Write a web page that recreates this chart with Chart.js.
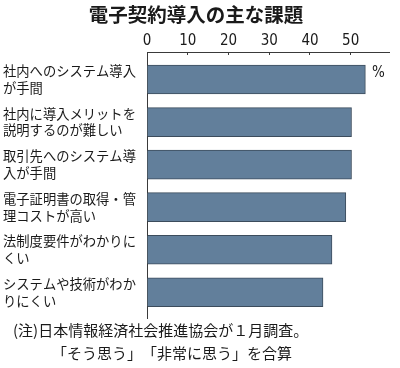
<!DOCTYPE html>
<html>
<head>
<meta charset="utf-8">
<script src="https://cdn.jsdelivr.net/npm/chart.js@4/dist/chart.umd.min.js"></script>
<style>
  html, body { margin: 0; padding: 0; background: #fff; }
  canvas { text-spacing-trim: space-all; }
</style>
</head>
<body>
<canvas id="barChart" width="400" height="368"></canvas>
<script>
// data
var chartTitle = '電子契約導入の主な課題';
var categories = [
    ['社内へのシステム導入', 'が手間'],
    ['社内に導入メリットを', '説明するのが難しい'],
    ['取引先へのシステム導', '入が手間'],
    ['電子証明書の取得・管', '理コストが高い'],
    ['法制度要件がわかりに', 'くい'],
    ['システムや技術がわか', 'りにくい']
];
var values = [53.6, 50.2, 50.2, 48.8, 45.4, 43.2];
var xTicks = [0, 10, 20, 30, 40, 50];
var unitLabel = '%';
var notes = [
    '(注)日本情報経済社会推進協会が１月調査。',
    '「そう思う」「非常に思う」を合算'
];

var jpFont = "'Noto Sans CJK JP', 'Noto Sans', sans-serif";
var numFont = "'Liberation Sans Narrow', 'DejaVu Sans Condensed', 'Liberation Sans', sans-serif";
var textColor = '#1a1a1a';
var axisColor = '#3a3a3a';

// unit label and footnote, drawn after the chart
var extraText = {
    id: 'extraText',
    afterDraw: function(chart) {
        var ctx = chart.ctx;
        var area = chart.chartArea;
        var yScale = chart.scales.y;
        ctx.save();
        ctx.fillStyle = textColor;
        ctx.textBaseline = 'middle';
        ctx.textAlign = 'left';
        ctx.font = '15px ' + numFont;
        ctx.fillText(unitLabel, area.right - 17, yScale.getPixelForValue(0) - 6);

        ctx.font = '15px ' + jpFont;
        ctx.fillText(notes[0], 13, area.bottom + 12);
        ctx.fillText(notes[1], 52, area.bottom + 35);
        ctx.restore();
    }
};

var barData = values.map(function(v, i) { return { x: v, y: i }; });

var ctx = document.getElementById('barChart').getContext('2d');
var barChart = new Chart(ctx, {
    type: 'bar',
    data: {
        datasets: [{
            data: barData,
            backgroundColor: '#627f9b',
            borderColor: '#3c4c5c',
            borderWidth: 1,
            barThickness: 29
        }]
    },
    options: {
        indexAxis: 'y',
        responsive: false,
        animation: false,
        layout: {
            padding: { left: 3, right: 11, top: 0, bottom: 50 }
        },
        plugins: {
            legend: { display: false },
            tooltip: { enabled: false },
            title: {
                display: true,
                text: chartTitle,
                color: textColor,
                font: { family: jpFont, size: 19.5, weight: 'bold', lineHeight: 1.2 },
                padding: { top: 3, bottom: 4 }
            }
        },
        scales: {
            x: {
                type: 'linear',
                position: 'top',
                min: 0,
                max: 59.4,
                afterBuildTicks: function(scale) {
                    scale.ticks = xTicks.map(function(v) { return { value: v }; });
                },
                afterFit: function(scale) {
                    scale.height = 21.6;
                },
                grid: {
                    drawOnChartArea: false,
                    color: axisColor,
                    tickLength: -3
                },
                border: { display: true, color: axisColor, width: 1 },
                ticks: {
                    color: textColor,
                    padding: 5,
                    font: { family: numFont, size: 15 }
                }
            },
            y: {
                type: 'linear',
                reverse: true,
                offset: false,
                min: -0.646,
                max: 5.604,
                afterBuildTicks: function(scale) {
                    scale.ticks = categories.map(function(c, i) { return { value: i }; });
                },
                afterFit: function(scale) {
                    scale.width = 144;
                },
                grid: { display: false, offset: false },
                border: { display: true, color: axisColor, width: 1 },
                ticks: {
                    color: textColor,
                    crossAlign: 'far',
                    font: { family: jpFont, size: 13.3, lineHeight: 1.25 },
                    callback: function(value) { return categories[value]; }
                }
            }
        }
    },
    plugins: [extraText]
});
</script>
</body>
</html>
